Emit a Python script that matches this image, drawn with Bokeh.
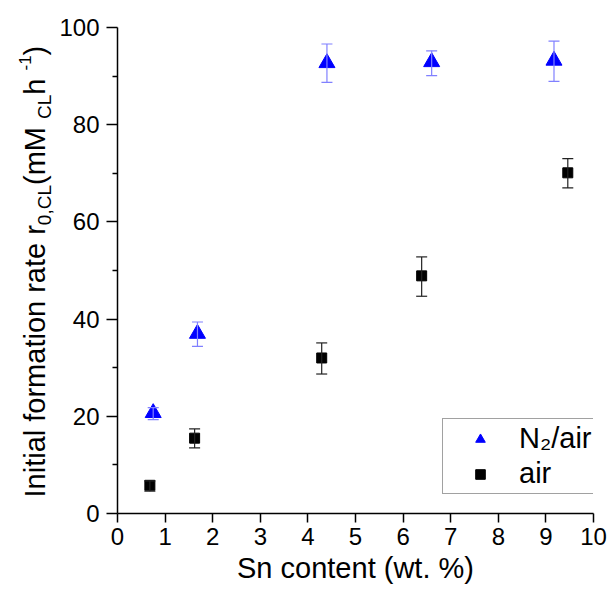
import math
from bokeh.plotting import figure
from bokeh.layouts import row
from bokeh.models import (Range1d, FixedTicker, Whisker, ColumnDataSource,
                          Legend, LegendItem, TeeHead, Label)
from bokeh.embed import file_html
from bokeh.resources import INLINE

# ---- data ----
n2_x = [0.75, 1.68, 4.40, 6.60, 9.17]
n2_y = [20.7, 37.0, 92.7, 92.9, 93.2]
n2_lo = [19.3, 34.4, 88.7, 90.1, 88.9]
n2_hi = [21.8, 39.4, 96.6, 95.2, 97.2]

air_x = [0.68, 1.62, 4.29, 6.39, 9.46]
air_y = [5.8, 15.5, 32.0, 48.9, 70.1]
air_lo = [4.6, 13.5, 28.7, 44.7, 67.0]
air_hi = [6.7, 17.4, 35.1, 52.8, 73.0]

x_ticks = [0, 1, 2, 3, 4, 5, 6, 7, 8, 9, 10]
y_ticks = [0, 20, 40, 60, 80, 100]
y_minor = [10, 30, 50, 70, 90]

FONT = "Liberation Sans"
W, H = 609, 591
LW = 55            # width of the strip that carries the y-axis title
LEFT = 117         # canvas x of the plot frame's left edge
TOP, BOTTOM = 27, 78
FRAME_BOTTOM = H - BOTTOM

p = figure(width=W - LW, height=H, output_backend="svg", toolbar_location=None,
           x_range=Range1d(0, 10), y_range=Range1d(0, 100),
           min_border_left=LEFT - LW, min_border_right=16, min_border_top=TOP,
           min_border_bottom=BOTTOM)
p.outline_line_color = None
p.grid.visible = False
p.background_fill_color = "white"
p.border_fill_color = "white"

for ax in (p.xaxis[0], p.yaxis[0]):
    ax.axis_line_width = 1.5
    ax.axis_line_color = "black"
    ax.major_tick_line_color = "black"
    ax.major_tick_line_width = 1.5
    ax.minor_tick_line_color = "black"
    ax.minor_tick_line_width = 1.5
    ax.major_tick_in = 0
    ax.minor_tick_in = 0
    ax.minor_tick_out = 5
    ax.major_label_text_font = FONT
    ax.major_label_text_font_size = "24px"
    ax.major_label_text_color = "black"

p.xaxis.major_tick_out = 9
p.xaxis.major_label_standoff = 5
p.yaxis.major_tick_out = 11
p.yaxis.major_label_standoff = 7

p.xaxis.ticker = FixedTicker(ticks=x_ticks, minor_ticks=[])
p.yaxis.ticker = FixedTicker(ticks=y_ticks, minor_ticks=y_minor)
p.xaxis.axis_label = "Sn content (wt. %)"
p.xaxis.axis_label_text_font = FONT
p.xaxis.axis_label_text_font_size = "29px"
p.xaxis.axis_label_text_font_style = "normal"
p.xaxis.axis_label_text_color = "black"
p.xaxis.axis_label_standoff = 4

# ---- error bars ----
n2_src = ColumnDataSource(dict(x=n2_x, y=n2_y, lo=n2_lo, hi=n2_hi))
air_src = ColumnDataSource(dict(x=air_x, y=air_y, lo=air_lo, hi=air_hi))

for src, col in ((n2_src, "#8080ff"), (air_src, "#222222")):
    w = Whisker(source=src, base="x", lower="lo", upper="hi",
                line_color=col, line_width=1.2, level="glyph",
                upper_head=TeeHead(size=11, line_color=col, line_width=1.2),
                lower_head=TeeHead(size=11, line_color=col, line_width=1.2))
    p.add_layout(w)

r_n2 = p.scatter("x", "y", source=n2_src, marker="triangle", size=16,
                 fill_color="#0000ff", line_color="#0000ff")
r_air = p.scatter("x", "y", source=air_src, marker="square", size=10,
                  fill_color="black", line_color="black")

legend = Legend(items=[LegendItem(label="N\u2082/air", renderers=[r_n2]),
                       LegendItem(label="air", renderers=[r_air])],
                location=(325, 19), padding=3, spacing=2,
                glyph_width=68, glyph_height=24, label_standoff=5,
                label_text_font=FONT, label_text_font_size="29px",
                label_text_color="black",
                border_line_color="#444444", border_line_width=1,
                background_fill_color="white", background_fill_alpha=1.0)
p.add_layout(legend)

# ---- y-axis title strip (its frame is aligned with the main frame) ----
t = figure(width=LW, height=H, output_backend="svg", toolbar_location=None,
           x_range=Range1d(0, LW), y_range=Range1d(0, 1),
           x_axis_type=None, y_axis_type=None,
           min_border_left=0, min_border_right=0, min_border_top=TOP,
           min_border_bottom=BOTTOM)
t.outline_line_color = None
t.grid.visible = False
t.background_fill_color = "white"
t.border_fill_color = "white"

S, s_sub, s_sup = 29, 19, 17
base_x = 34  # x of the main baseline
pieces = [
    ("Initial formation rate r", S, 0, 9.392 * S),
    ("0,CL", s_sub, 10, 2.112 * s_sub),
    (" (mM", S, 0, 2.277 * S),
    ("CL", s_sub, 10, 1.278 * s_sub),
    (" h", S, 0, 0.834 * S),
    ("-1", s_sup, -10, 0.889 * s_sup),
    (")", S, 0, 0.333 * S),
]
y_pos = FRAME_BOTTOM - 497.0   # title start, measured up from the frame bottom
for txt, size, dx, width in pieces:
    t.add_layout(Label(x=base_x + dx, y=y_pos, x_units="screen", y_units="screen",
                       text=txt, angle=math.pi / 2, text_align="left",
                       text_baseline="alphabetic", text_font=FONT,
                       text_font_size=f"{size}px", text_color="black"))
    y_pos += width

layout = row(t, p, spacing=0)
open("out.html", "w").write(file_html(layout, INLINE))
